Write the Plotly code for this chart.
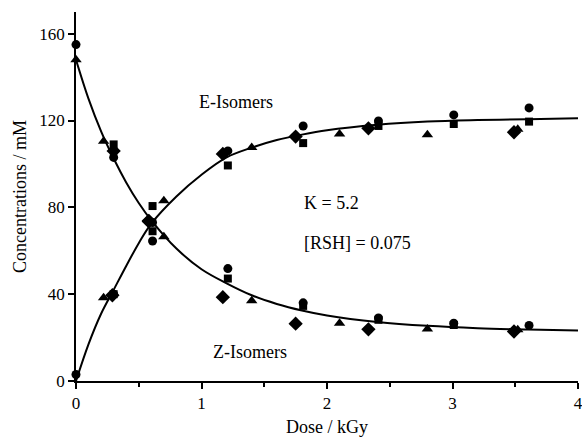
import plotly.graph_objects as go

# Fitted curves
curve_x = [0, 0.1, 0.2, 0.3, 0.4, 0.5, 0.6, 0.8, 1.0, 1.2, 1.4, 1.6, 1.8, 2.0, 2.4, 2.8, 3.2, 3.6, 4.0]
e_curve = [0, 17, 31, 42, 53, 63.5, 72.5, 85, 95, 103, 107.5, 111, 113.5, 115.5, 118, 119.5, 120.2, 120.6, 121]
z_curve = [148, 130, 115, 102.5, 91.5, 82, 74, 61, 51.5, 45, 39.5, 35.5, 32.5, 30.2, 27.2, 25.4, 24.3, 23.7, 23.3]

# E-isomer data
e_circle_x = [0.0, 0.3, 0.61, 1.21, 1.81, 2.41, 3.01, 3.61]
e_circle_y = [3, 40, 73, 106, 117.5, 119.8, 122.6, 125.8]
e_square_x = [0.3, 0.61, 1.21, 1.81, 2.41, 3.01, 3.61]
e_square_y = [40, 80.6, 99.3, 109.6, 117.5, 118.4, 119.5]
e_triangle_x = [0.22, 0.70, 1.40, 2.10, 2.80, 3.52]
e_triangle_y = [38.4, 83, 107.6, 113.8, 113.4, 116]
e_diamond_x = [0.29, 0.58, 1.17, 1.75, 2.33, 3.49]
e_diamond_y = [39.5, 73.5, 104.6, 112.6, 116.4, 114.6]

# Z-isomer data
z_circle_x = [0.0, 0.3, 0.61, 1.21, 1.81, 2.41, 3.01, 3.61]
z_circle_y = [155, 103, 64.5, 51.8, 36, 29, 26.6, 25.6]
z_square_x = [0.3, 0.61, 1.21, 1.81, 2.41, 3.01]
z_square_y = [109, 69, 47.2, 34.6, 28.2, 25.8]
z_triangle_x = [0.0, 0.22, 0.70, 1.40, 2.10, 2.80, 3.52]
z_triangle_y = [148, 110.5, 66.5, 37, 26.6, 24, 23.6]
z_diamond_x = [0.3, 0.58, 1.17, 1.75, 2.33, 3.49]
z_diamond_y = [106, 73.8, 38.6, 26.4, 23.8, 22.8]

SERIF = "Liberation Serif, Times New Roman, serif"

fig = go.Figure()
line_style = dict(color="black", width=2, shape="spline", smoothing=1.0)
fig.add_trace(go.Scatter(x=curve_x, y=e_curve, mode="lines", line=line_style, hoverinfo="skip"))
fig.add_trace(go.Scatter(x=curve_x, y=z_curve, mode="lines", line=line_style, hoverinfo="skip"))

def pts(x, y, symbol, size):
    fig.add_trace(go.Scatter(x=x, y=y, mode="markers",
                             marker=dict(symbol=symbol, size=size, color="black", line=dict(width=0)),
                             cliponaxis=False))

for xs, ys in [(e_circle_x, e_circle_y), (z_circle_x, z_circle_y)]:
    pts(xs, ys, "circle", 9)
for xs, ys in [(e_square_x, e_square_y), (z_square_x, z_square_y)]:
    pts(xs, ys, "square", 8)
for xs, ys in [(e_triangle_x, e_triangle_y), (z_triangle_x, z_triangle_y)]:
    pts(xs, ys, "triangle-up", 10)
for xs, ys in [(e_diamond_x, e_diamond_y), (z_diamond_x, z_diamond_y)]:
    pts(xs, ys, "diamond", 11)

font = dict(family=SERIF, size=18, color="black")
ann = [
    dict(x=1.275, y=128.6, text="E-Isomers", xanchor="center"),
    dict(x=1.80, y=82, text="K = 5.2", xanchor="left"),
    dict(x=1.80, y=63.6, text="[RSH] = 0.075", xanchor="left"),
    dict(x=1.39, y=13.4, text="Z-Isomers", xanchor="center"),
]
for a in ann:
    fig.add_annotation(x=a["x"], y=a["y"], text=a["text"], xanchor=a["xanchor"], yanchor="middle",
                       showarrow=False, font=font)

fig.update_layout(
    width=582, height=439,
    margin=dict(l=76, r=4, t=12, b=58),
    paper_bgcolor="white", plot_bgcolor="white",
    showlegend=False,
    font=dict(family=SERIF, size=17, color="black"),
)
fig.update_xaxes(
    range=[0, 4], tickvals=[0, 1, 2, 3, 4], ticks="outside", ticklen=6, tickwidth=1.5,
    tickcolor="black", showline=True, linecolor="black", linewidth=1.5, showgrid=False,
    zeroline=False, tickfont=dict(family=SERIF, size=17), automargin=False,
    ticklabeloverflow="allow",
    minor=dict(tickvals=[0.5, 1.5, 2.5, 3.5], ticks="outside", ticklen=4, tickwidth=1.5, tickcolor="black"),
    title=dict(text="Dose / kGy", font=dict(family=SERIF, size=18), standoff=8),
)
fig.update_yaxes(
    range=[0, 170], tickvals=[0, 40, 80, 120, 160], ticks="outside", ticklen=6, tickwidth=1.5,
    tickcolor="black", showline=True, linecolor="black", linewidth=1.5, showgrid=False,
    zeroline=False, tickfont=dict(family=SERIF, size=17), automargin=False,
    ticklabeloverflow="allow",
    title=dict(text="Concentrations / mM", font=dict(family=SERIF, size=18), standoff=8),
)

fig.write_html("out.html", config={"displayModeBar": False},
               post_script="document.body.style.margin='0';document.body.style.overflow='hidden';")
